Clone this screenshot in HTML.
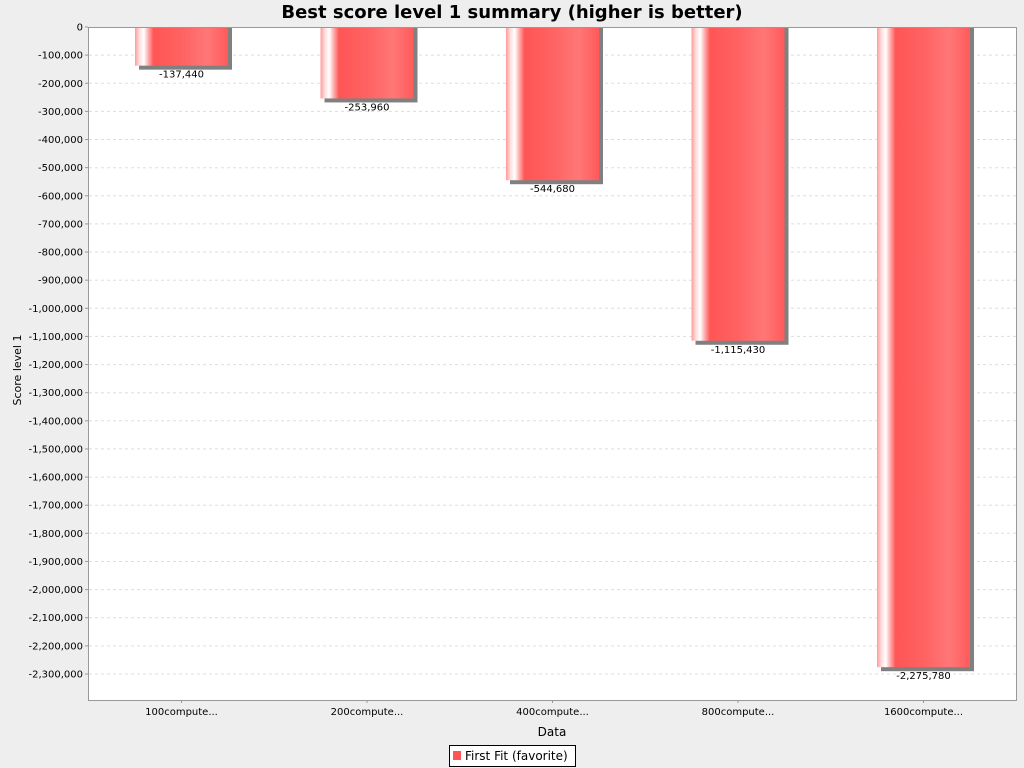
<!DOCTYPE html>
<html><head><meta charset="utf-8"><style>
html,body{margin:0;padding:0;background:#eeeeee;}
svg{display:block;font-family:"DejaVu Sans","Liberation Sans",sans-serif;}
</style></head><body>
<svg width="1024" height="768" viewBox="0 0 1024 768" xmlns="http://www.w3.org/2000/svg">
<defs>
<linearGradient id="g" x1="0" y1="0" x2="1" y2="0">
<stop offset="0" stop-color="#ff9a9a"/>
<stop offset="0.05" stop-color="#ffe0e0"/>
<stop offset="0.095" stop-color="#ffffff"/>
<stop offset="0.14" stop-color="#ffb0b0"/>
<stop offset="0.2" stop-color="#ff5555"/>
<stop offset="0.5" stop-color="#ff6262"/>
<stop offset="0.78" stop-color="#ff7777"/>
<stop offset="1" stop-color="#ff5a5a"/>
</linearGradient>
</defs>
<rect x="0" y="0" width="1024" height="768" fill="#eeeeee"/>
<text x="512" y="18" text-anchor="middle" font-size="18" font-weight="bold" fill="#000">Best score level 1 summary (higher is better)</text>
<rect x="88" y="27" width="928" height="673" fill="#ffffff"/>
<g stroke="#dddddd" stroke-dasharray="3,3" stroke-width="1" id="grid"></g>
<g id="bars"></g>
<rect x="88.5" y="27.5" width="928" height="673" fill="none" stroke="#999" stroke-width="1"/>
<g id="yl" font-size="10" fill="#000" text-anchor="end"></g>
<g id="xl" font-size="10" fill="#000" text-anchor="middle"></g>
<text x="552" y="736" text-anchor="middle" font-size="12" fill="#000">Data</text>
<text transform="translate(21,370) rotate(-90)" text-anchor="middle" font-size="11" fill="#000">Score level 1</text>
<rect x="449.5" y="745.5" width="126" height="21" fill="#fff" stroke="#000"/>
<rect x="453" y="751" width="8" height="9" fill="#ff5555"/>
<text x="465" y="760" font-size="12" fill="#000">First Fit (favorite)</text>
</svg>
<script>
var ns="http://www.w3.org/2000/svg";
function el(p,t,a,txt){var e=document.createElementNS(ns,t);for(var k in a)e.setAttribute(k,a[k]);if(txt)e.textContent=txt;document.getElementById(p).appendChild(e);}
var s=647/2300000;
for(var i=0;i<=23;i++){var y=27+i*28.13;
 if(i>0)el("grid","line",{x1:89,x2:1016,y1:y.toFixed(1),y2:y.toFixed(1)});
 el("yl","text",{x:83,y:(y+3.5).toFixed(1)},i==0?"0":"-"+(i*100000).toLocaleString("en-US"));
 el("yl","line",{x1:85,x2:88,y1:y,y2:y,stroke:"#999"});
}
var v=[137440,253960,544680,1115430,2275780],n=["100compute...","200compute...","400compute...","800compute...","1600compute..."];
for(var i=0;i<5;i++){var c=181.5+i*185.5,h=v[i]*s;
 el("bars","rect",{x:c-46.5+4,y:27,width:93,height:h+4,fill:"#808080"});
 el("bars","rect",{x:c-46.5,y:27,width:93,height:h,fill:"url(#g)"});
 el("xl","text",{x:c,y:27+h+12},"-"+v[i].toLocaleString("en-US"));
 el("xl","text",{x:c,y:715},n[i]);
 el("xl","line",{x1:c,x2:c,y1:700,y2:703,stroke:"#999"});
}
</script>
</body></html>
